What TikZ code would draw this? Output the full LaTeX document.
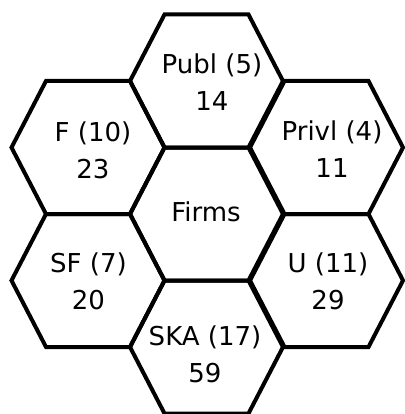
\documentclass[tikz,border=0pt]{standalone}
\usepackage{fontspec}
\setmainfont{DejaVu Sans}
\tikzset{
	every path/.style={line width=4pt},
	align=center,
	hexcell/.pic={
		\draw (-76.5,0) -- (-42,-66.5) -- (42,-66.5) -- (76.5,0)
			-- (42,66.5) -- (-42,66.5) -- cycle;
	},
	celltext/.style={
		font=\fontsize{26}{37}\selectfont,
		inner sep=0pt,
	},
}

\begin{document}
\begin{tikzpicture}[x=1pt,y=-1pt]
		\useasboundingbox (0,0) rectangle (404,414);

		% the honeycomb (right column sits a little off)
		\pic at (206.5,81)  {hexcell};
		\pic at (88,147.5)  {hexcell};
		\pic at (326.5,147.5) {hexcell};
		\pic at (206.5,214) {hexcell};
		\pic at (88,280.5)  {hexcell};
		\pic at (326.5,280.5) {hexcell};
		\pic at (206.5,347) {hexcell};

		% labels
		\node[celltext] (publ)  at (212,82.5)  {Publ (5)\\14};
		\node[celltext] (f)     at (93,150)    {F (10)\\23};
		\node[celltext] (privl) at (332,149)   {Privl (4)\\11};
		\node[celltext] (firms) at (206,212)   {Firms};
		\node[celltext] (sf)    at (88.5,281)  {SF (7)\\20};
		\node[celltext] (u)     at (328,281)   {U (11)\\29};
		\node[celltext] (ska)   at (205,354)   {SKA (17)\\59};

	\end{tikzpicture}
\end{document}
